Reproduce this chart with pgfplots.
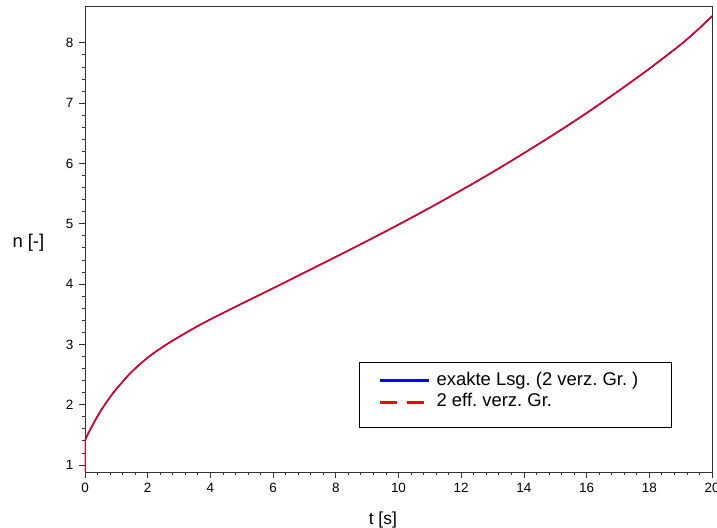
\documentclass[border=0pt]{standalone}
\usepackage{pgfplots}
\pgfplotsset{compat=1.18}
\usepackage{fontspec}
\setmainfont{Liberation Sans}
\frenchspacing

\definecolor{exaktblue}{RGB}{0,0,255}
\definecolor{effred}{RGB}{225,0,20}

% n(t): response for the two effective delay groups
\pgfplotstableread{
t      n
0.00   1.41
0.10   1.52
0.20   1.62
0.40   1.81
0.60   1.975
0.90   2.195
1.20   2.38
1.50   2.55
2.00   2.78
2.50   2.965
3.00   3.125
3.50   3.275
4.00   3.415
4.50   3.545
5.00   3.675
6.00   3.93
7.00   4.19
8.00   4.45
9.00   4.715
10.00  4.985
11.00  5.265
12.00  5.555
13.00  5.855
14.00  6.17
15.00  6.495
16.00  6.835
17.00  7.195
18.00  7.57
19.00  7.97
19.50  8.195
20.00  8.44
}\nsol

% jump at t = 0
\pgfplotstableread{
t      n
0.00   0.885
0.00   1.41
}\nstart

\begin{document}
\begin{tikzpicture}
\path[use as bounding box] (-85bp,-56bp) rectangle (632bp,472bp);
\begin{axis}[
  scale only axis,
  width=627bp, height=466bp,
  xmin=0, xmax=20, ymin=0.884, ymax=8.61,
  xtick={0,2,...,20}, ytick={1,2,...,8},
  minor x tick num=4, minor y tick num=4,
  xtick pos=bottom, ytick pos=left,
  tick align=outside,
  major tick length=6bp, minor tick length=3bp,
  axis line style={line width=0.9bp, black!80},
  every tick/.style={black!80, line width=0.8bp},
  tick label style={font=\fontsize{13.5}{15}\selectfont},
  /pgf/number format/assume math mode=true,
  xticklabel style={yshift=-2bp},
  yticklabel style={xshift=-2bp},
  xlabel={t [s]}, ylabel={n [-]},
  every axis x label/.style={at={(axis description cs:0.475,0)}, anchor=center,
    yshift=-48bp, font=\fontsize{17.5}{20}\selectfont},
  every axis y label/.style={at={(axis description cs:0,0.491)}, anchor=west,
    xshift=-76bp, font=\fontsize{18.5}{20}\selectfont},
  legend style={
    at={(axis description cs:0.9362,0.236)}, anchor=north east,
    draw=black, line width=0.8bp, fill=white,
    font=\fontsize{18.5}{20}\selectfont,
    inner xsep=0bp, inner ysep=10bp,
    nodes={inner xsep=0bp, inner ysep=0bp, text height=13bp, text depth=4bp},
    row sep=4.5bp,
    /tikz/every odd column/.append style={column sep=6bp},
  },
  legend cell align=left,
]
\addplot[exaktblue, line width=1.5bp, forget plot] table[x=t,y=n] {\nstart};
\addplot[exaktblue, line width=1.5bp, smooth, tension=0.55,
  legend image code/.code={%
    \path[draw=none] (0bp,0bp) -- (21bp,0bp);
    \draw[exaktblue, line width=3bp] (21bp,0bp) -- (70bp,0bp);}]
  table[x=t,y=n] {\nsol};
\addlegendentry{\makebox[235bp][l]{exakte Lsg. (2 verz. Gr. )}}
\addplot[effred, line width=1.5bp, forget plot] table[x=t,y=n] {\nstart};
\addplot[effred, line width=1.5bp, smooth, tension=0.55,
  legend image code/.code={%
    \path[draw=none] (0bp,-15bp) -- (21bp,0bp);
    \draw[red, line width=2.8bp, dash pattern=on 16.7bp off 10bp] (21bp,0bp) -- (64.4bp,0bp);}]
  table[x=t,y=n] {\nsol};
\addlegendentry{\makebox[235bp][l]{2 eff. verz. Gr.}}
\end{axis}
\end{tikzpicture}
\end{document}
